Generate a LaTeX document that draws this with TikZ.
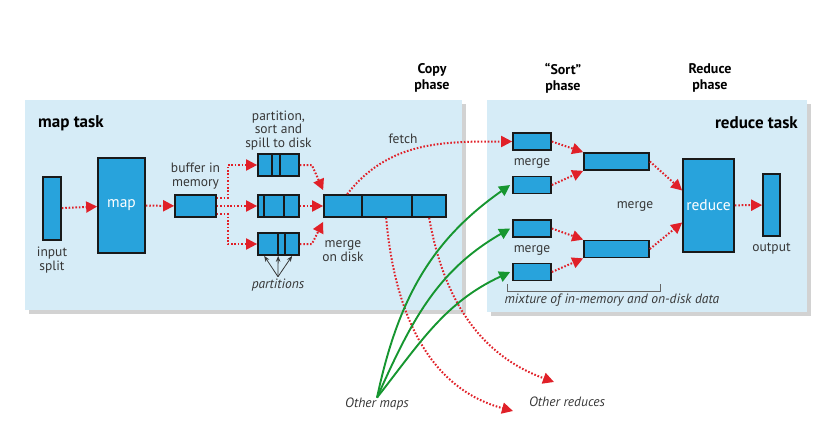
\documentclass[tikz,border=0pt]{standalone}
\usepackage{fontspec}
\setmainfont{PT Sans}
\usepackage{tikz}
\usepackage{xcolor}
\usetikzlibrary{shapes,arrows.meta,positioning,shadows,calc}
\definecolor{paleblue}{RGB}{214,236,247}
\definecolor{cellblue}{RGB}{40,163,220}
\definecolor{flowred}{RGB}{224,32,40}
\definecolor{feedgreen}{RGB}{22,150,48}
\definecolor{textgray}{RGB}{55,55,55}

\tikzset{
  task/.style={rectangle, fill=paleblue, draw=none, drop shadow={shadow xshift=4pt, shadow yshift=-4pt, fill=black!35}},
  cell/.style={rectangle, draw=black!90, line width=1.7pt, fill=cellblue, inner sep=0pt},
  flow/.style={draw=flowred, line width=2pt, dash pattern=on 1.6pt off 1.8pt, -{Triangle[length=11pt,width=11pt,fill=flowred]}},
  feed/.style={draw=feedgreen, line width=1.9pt, -{Triangle[length=11pt,width=11pt]}},
  lbl/.style={text=textgray, align=center, inner sep=0pt, font=\fontsize{13.5}{13.5}\selectfont},
  note/.style={lbl, font=\fontsize{13.5}{13.5}\selectfont\itshape},
  ttl/.style={inner sep=0pt, font=\bfseries\fontsize{17}{18}\selectfont},
  phase/.style={align=center, inner sep=0pt, font=\bfseries\fontsize{14}{16}\selectfont},
}

\begin{document}
\begin{tikzpicture}[x=1pt, y=1pt]
\useasboundingbox (0,0) rectangle (818,-442);

% task boxes
\node[task, minimum width=437, minimum height=210] (maptask) at (243.5,-205) {};
\node[task, minimum width=320, minimum height=212] (redtask) at (647,-206) {};
\node[ttl, anchor=west] at (38,-123) {map task};
\node[ttl, anchor=east] at (798,-123) {reduce task};

% phases
\node[phase] (copyph) at (432,-78) {Copy\\phase};
\node[phase] (sortph) at (563,-78) {“Sort”\\phase};
\node[phase] (redph) at (710,-78) {Reduce\\phase};

% map side
\node[cell, minimum width=18, minimum height=63] (insplit) at (52,-208.5) {};
\node[lbl, below=6pt of insplit] {input\\split};
\node[cell, minimum width=47, minimum height=95, text=white, font=\fontsize{15.5}{16}\selectfont] (mapbox) at (121.5,-205.5) {map};
\node[cell, minimum width=41, minimum height=22] (buffer) at (195.5,-206) {};
\node[lbl, above=5pt of buffer] {buffer in\\memory};
\node[cell, minimum width=41, minimum height=22] (sp1) at (278.5,-165) {};
\node[cell, minimum width=41, minimum height=22] (sp2) at (278.5,-206) {};
\node[cell, minimum width=41, minimum height=22] (sp3) at (278.5,-244) {};
\node[lbl, above=3pt of sp1] {partition,\\sort and\\spill to disk};
\node[cell, minimum width=122, minimum height=22] (merged) at (385,-206) {};
\node[lbl] (mergedisk) at (343,-251) {merge\\on disk};
\node[note] (parts) at (278,-285) {partitions};
\node[lbl] (fetch) at (403,-139) {fetch};

\foreach \n/\a in {sp1/15, sp1/23, sp2/7, sp2/27, sp3/21, sp3/28, merged/39, merged/89}
  \draw[line width=1.7pt, draw=black!90] ([xshift=\a]\n.north west) -- ([xshift=\a]\n.south west);

\foreach \dx in {7,21,35}
  \draw[-{Stealth[length=6pt]}, line width=0.8pt, textgray] ([yshift=2]parts.north) -- ([xshift=\dx]sp3.south west);

\draw[flow] (insplit) -- (mapbox);
\draw[flow] (mapbox) -- (buffer);
\draw[flow] ([yshift=8]buffer.east) -- ++(11,0) |- (sp1);
\draw[flow] (buffer) -- (sp2);
\draw[flow] ([yshift=-8]buffer.east) -- ++(11,0) |- (sp3);
\draw[flow] (sp1.east) -- ++(12,0) -- ([yshift=4]merged.north west);
\draw[flow] (sp2) -- (merged);
\draw[flow] (sp3.east) -- ++(12,0) -- ([yshift=-4]merged.south west);

% reduce side
\foreach \i/\y in {1/-141.5, 2/-185, 3/-228.5, 4/-272}
  \node[cell, minimum width=38, minimum height=17] (m\i) at (532,\y) {};
\node[lbl] at (532,-163) {merge};
\node[lbl] at (532,-250) {merge};
\node[cell, minimum width=65, minimum height=17] (mg1) at (616.5,-161.5) {};
\node[cell, minimum width=65, minimum height=17] (mg2) at (616.5,-249) {};
\node[lbl] at (635,-206) {merge};
\node[cell, minimum width=51, minimum height=93, text=white, font=\fontsize{15.5}{16}\selectfont] (reducebox) at (708.5,-205.5) {reduce};
\node[cell, minimum width=17, minimum height=62] (output) at (771.5,-205) {};
\node[lbl, below=6pt of output] {output};

\draw[flow] (m1.east) -- (mg1.north west);
\draw[flow] (m2.east) -- (mg1.south west);
\draw[flow] (m3.east) -- (mg2.north west);
\draw[flow] (m4.east) -- (mg2.south west);
\draw[flow] (mg1.east) -- ([yshift=15]reducebox.west);
\draw[flow] (mg2.east) -- ([yshift=-17]reducebox.west);
\draw[flow] (reducebox) -- (output);

\draw[black!60, line width=0.9pt] (507,-284) -- (507,-291) -- (660,-291) -- (660,-284);
\node[note] at (612,-300) {mixture of in-memory and on-disk data};

% copy phase
\draw[flow] ([xshift=24]merged.north west) to[out=52,in=180] (m1.west);

\node[note] (othmaps) at (377,-404) {Other maps};
\node[note] (othred) at (567,-402) {Other reduces};
\coordinate (red1) at (513,-411);
\coordinate (red2) at (554,-382);
\draw[flow] ([xshift=63]merged.south west) to[out=-85,in=165] (red1);
\draw[flow] ([xshift=106]merged.south west) to[out=-80,in=160] (red2);

\draw[feed] (othmaps.north) to[out=78,in=215] ([xshift=-2]m2.west);
\draw[feed] (othmaps.north) to[out=66,in=210] ([xshift=-2]m3.west);
\draw[feed] (othmaps.north) to[out=52,in=205] ([xshift=-2]m4.west);
\end{tikzpicture}
\end{document}
